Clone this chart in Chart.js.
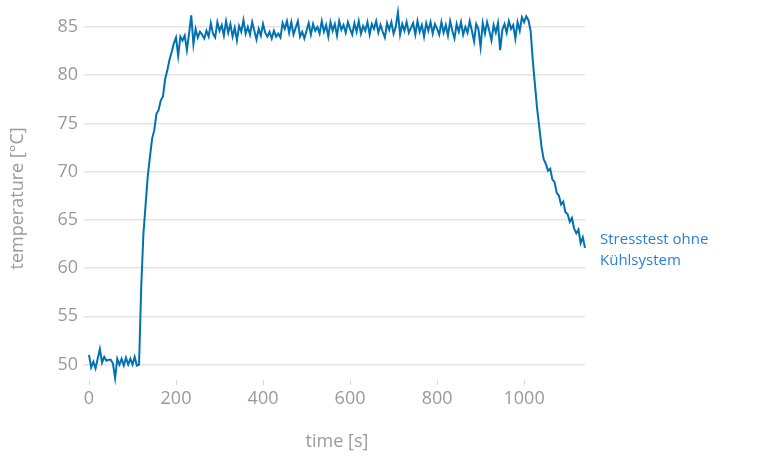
<!DOCTYPE html>
<html>
<head>
<meta charset="utf-8">
<script src="https://cdn.jsdelivr.net/npm/chart.js@4/dist/chart.umd.min.js"></script>
<style>
  html, body { margin: 0; padding: 0; background: #ffffff; }
  #wrap { width: 766px; height: 462px; }
</style>
</head>
<body>
<div id="wrap"><canvas id="c" width="766" height="462"></canvas></div>
<script>
// ---- data ----
const timeS = [
  0, 5, 10, 15, 20, 25, 30, 35, 40, 45,
  50, 55, 60, 65, 70, 75, 80, 85, 90, 95,
  100, 105, 110, 115, 120,
  125, 130, 135, 140, 145, 150, 155, 160, 165, 170,
  175, 180, 185, 190, 195, 200, 205,
  210, 215, 220, 225, 230, 235, 240, 245, 250, 255,
  260, 265, 270, 275, 280, 285, 290, 295, 300, 305,
  310, 315, 320, 325, 330, 335, 340, 345, 350, 355,
  360, 365, 370, 375, 380, 385, 390, 395, 400, 405,
  410, 415, 420, 425, 430, 435, 440, 445, 450, 455,
  460, 465, 470, 475, 480, 485, 490, 495, 500, 505,
  510, 515, 520, 525, 530, 535, 540, 545, 550, 555,
  560, 565, 570, 575, 580, 585, 590, 595, 600, 605,
  610, 615, 620, 625, 630, 635, 640, 645, 650, 655,
  660, 665, 670, 675, 680, 685, 690, 695, 700, 705,
  710, 715, 720, 725, 730, 735, 740, 745, 750, 755,
  760, 765, 770, 775, 780, 785, 790, 795, 800, 805,
  810, 815, 820, 825, 830, 835, 840, 845, 850, 855,
  860, 865, 870, 875, 880, 885, 890, 895, 900, 905,
  910, 915, 920, 925, 930, 935, 940, 945, 950, 955,
  960, 965, 970, 975, 980, 985, 990, 995, 1000, 1005,
  1010, 1015, 1020, 1025, 1030, 1035, 1040, 1045, 1050, 1055,
  1060, 1065, 1070, 1075, 1080, 1085, 1090, 1095, 1100, 1105,
  1110, 1115, 1120, 1125, 1130, 1135, 1140
];
const temperatureC = [
  51.0, 49.7, 50.3, 49.6, 50.6, 51.6, 50.2, 50.8, 50.4, 50.5,
  50.5, 50.1, 48.6, 50.6, 50.0, 50.6, 49.9, 50.7, 50.0, 50.6,
  50.0, 50.8, 49.9, 50.0, 58.0,
  63.5, 66.5, 69.5, 71.5, 73.4, 74.3, 76.0, 76.4, 77.4, 77.8,
  79.6, 80.5, 81.6, 82.4, 83.3, 83.9, 82.0,
  84.0, 83.6, 84.1, 82.6, 84.3, 86.2, 83.2, 84.8, 83.9, 84.5,
  84.2, 83.8, 84.6, 84.0, 85.4, 84.3, 83.9, 85.5, 84.6, 85.2,
  84.1, 85.6, 84.4, 85.3, 84.0, 84.9, 83.6, 85.1, 84.5, 85.7,
  84.3, 85.0, 84.2, 85.5, 84.6, 83.7, 84.8, 84.1, 85.3, 84.4,
  84.0, 84.5, 83.8, 84.6, 84.0, 84.3, 83.9, 85.4, 84.8, 85.6,
  84.4, 85.5, 84.2, 84.9, 85.6, 84.0, 84.5, 83.8, 84.6, 85.4,
  84.2, 85.3, 84.6, 85.0, 84.3, 85.6, 84.5, 85.2, 84.0, 85.5,
  84.6, 85.3, 84.1, 85.6, 84.7, 85.2, 84.4, 85.5, 84.8, 84.2,
  85.4, 84.5, 85.6, 84.3, 85.1, 84.6, 85.5, 84.2, 85.3, 84.8,
  85.6, 84.4, 85.2, 84.5, 83.9, 85.4, 84.7, 85.5, 84.3, 85.0,
  86.5, 84.2, 85.3, 84.6, 85.5, 84.4, 84.9, 85.4, 84.2, 85.6,
  84.5, 85.2, 84.0, 85.4, 84.6, 85.5, 84.3, 85.3, 84.8, 84.2,
  85.5, 84.4, 85.2, 84.1, 85.6, 84.6, 83.8, 85.3, 84.5, 85.5,
  84.2, 85.0, 84.4, 85.6, 84.6, 83.5, 85.3, 84.8, 82.9, 85.4,
  84.3, 85.5, 84.6, 83.6, 85.2, 84.4, 85.4, 82.6, 84.7, 85.3,
  84.4, 85.6, 84.8, 85.2, 83.8, 85.5, 84.6, 86.0, 85.5, 86.1,
  85.7, 84.6, 81.5, 79.0, 76.5, 74.6, 72.6, 71.3, 70.8, 70.1,
  70.3, 69.2, 68.9, 67.8, 67.5, 66.6, 66.9, 65.8, 65.6, 64.8,
  65.2, 64.1, 63.6, 64.0, 62.6, 63.2, 62.1
];
const xTicks = [0, 200, 400, 600, 800, 1000];
const yTicks = [50, 55, 60, 65, 70, 75, 80, 85];
const xTitle = 'time [s]';
const yTitle = 'temperature [°C]';
const seriesLabel = ['Stresstest ohne', 'Kühlsystem'];

// ---- chart ----
const GRAY = '#9a9a9a';
const points = timeS.map((t, i) => ({ x: t, y: temperatureC[i] }));

const endLabel = {
  id: 'endLabel',
  afterDatasetsDraw(chart) {
    const { ctx, chartArea, scales } = chart;
    const last = temperatureC[temperatureC.length - 1];
    const yMid = scales.y.getPixelForValue(last);
    ctx.save();
    ctx.fillStyle = '#2b7fd2';
    ctx.font = '15px "Open Sans", "Noto Sans", sans-serif';
    ctx.textAlign = 'left';
    ctx.textBaseline = 'middle';
    ctx.fillText(seriesLabel[0], chartArea.right + 15, yMid - 8);
    ctx.fillText(seriesLabel[1], chartArea.right + 15, yMid + 13);
    ctx.restore();
  }
};

new Chart(document.getElementById('c'), {
  type: 'line',
  data: {
    datasets: [{
      data: points,
      borderColor: '#0072b2',
      borderWidth: 2,
      pointRadius: 0,
      tension: 0,
      fill: false,
      clip: false
    }]
  },
  options: {
    responsive: false,
    animation: false,
    devicePixelRatio: 1,
    layout: { padding: { left: 0, right: 181, top: 4, bottom: 0 } },
    plugins: { legend: { display: false }, tooltip: { enabled: false } },
    scales: {
      x: {
        type: 'linear',
        min: 0,
        max: 1140,
        afterBuildTicks: (s) => { s.ticks = xTicks.map(v => ({ value: v })); },
        afterFit: (s) => { s.height = 82; },
        grid: { drawOnChartArea: false, drawTicks: true, tickLength: 5, color: '#d9d9d9', lineWidth: 1 },
        border: { display: false },
        ticks: { color: GRAY, padding: 3, font: { family: '"Open Sans", sans-serif', size: 18 }, maxRotation: 0,
                 callback: (v) => String(v) },
        title: { display: true, text: xTitle, color: GRAY, padding: { top: 0, bottom: 9 }, font: { family: '"Open Sans", sans-serif', size: 18 } }
      },
      y: {
        type: 'linear',
        min: 48.4,
        max: 86.05,
        afterBuildTicks: (s) => { s.ticks = yTicks.map(v => ({ value: v })); },
        afterFit: (s) => { s.width = 89; },
        grid: { color: '#e3e3e3', lineWidth: 1.5, tickLength: 5 },
        border: { display: false },
        ticks: { color: GRAY, padding: 6, font: { family: '"Open Sans", sans-serif', size: 18 },
                 callback: (v) => String(v) },
        title: { display: true, text: yTitle, color: GRAY, padding: { top: 7, bottom: 0 }, font: { family: '"Open Sans", sans-serif', size: 18 } }
      }
    }
  },
  plugins: [endLabel]
});
</script>
</body>
</html>
